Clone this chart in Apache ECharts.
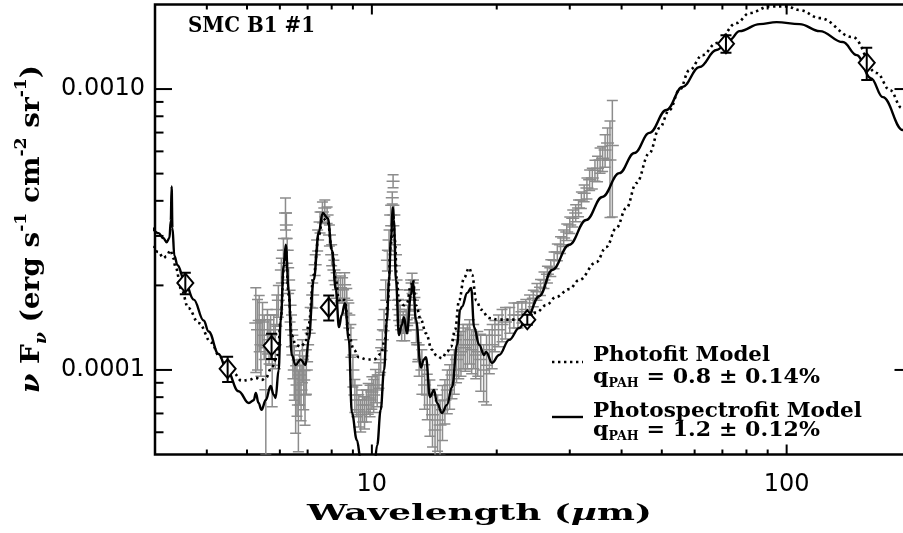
<!DOCTYPE html>
<html><head><meta charset="utf-8">
<script src="https://cdn.jsdelivr.net/npm/echarts@6/dist/echarts.min.js"></script>
<style>html,body{margin:0;padding:0;background:#fff}#c{width:903px;height:533px}</style>
</head><body><div id="c"></div>
<script>
// ---- axis ranges and ticks ----
const X_MIN = 3, X_MAX = 200, Y_MIN = 5e-5, Y_MAX = 2e-3;
const X_MAJOR_TICKS = [10, 100];
const X_MINOR_TICKS = [4, 5, 6, 7, 8, 9, 20, 30, 40, 50, 60, 70, 80, 90];
const Y_MAJOR_TICKS = [1e-4, 1e-3];
const Y_MINOR_TICKS = [6e-5, 7e-5, 8e-5, 9e-5, 2e-4, 3e-4, 4e-4, 5e-4, 6e-4, 7e-4, 8e-4, 9e-4];
const X_TICK_LABELS = {1: '10', 2: '100'};
const Y_TICK_LABELS = {'-4': '0.0001', '-3': '0.0010'};

// ---- Photospectrofit model (solid) ----
const SPECFIT_WL = [2.95, 3.06, 3.14, 3.20, 3.25, 3.275, 3.29, 3.305, 3.34, 3.40, 3.53, 3.72, 3.93, 4.04, 4.27, 4.47, 4.77, 5.05, 5.19, 5.25, 5.33, 5.42, 5.55, 5.70, 5.80, 5.86, 5.96, 6.03, 6.13, 6.20, 6.30, 6.41, 6.55, 6.73, 6.92, 7.04, 7.24, 7.45, 7.61, 7.83, 8.01, 8.19, 8.33, 8.46, 8.61, 8.80, 8.95, 9.20, 9.40, 9.60, 9.85, 10.1, 10.3, 10.5, 10.7, 10.87, 11.0, 11.11, 11.24, 11.30, 11.43, 11.62, 11.81, 11.95, 12.15, 12.42, 12.56, 12.77, 13.13, 13.35, 13.50, 13.81, 14.12, 14.35, 14.76, 15.17, 15.61, 16.05, 16.32, 16.50, 16.97, 17.35, 17.64, 18.14, 18.65, 18.85, 19.49, 20.27, 21.43, 22.65, 23.55, 25.32, 27.22, 29.91, 32.87, 35.94, 39.50, 42.95, 46.68, 51.30, 56.08, 61.65, 67.75, 72.82, 76.99, 86.08, 94.58, 107.5, 120.2, 136.6, 147.6, 159.6, 170.6, 190.6, 205];
const SPECFIT_FLUX = [3.22e-4, 3.07e-4, 2.95e-4, 2.85e-4, 2.95e-4, 3.4e-4, 4.5e-4, 3.2e-4, 2.55e-4, 2.36e-4, 2.09e-4, 1.78e-4, 1.50e-4, 1.37e-4, 1.14e-4, 1.0e-4, 8.4e-5, 7.63e-5, 7.8e-5, 8.28e-5, 7.63e-5, 7.21e-5, 7.82e-5, 8.77e-5, 8.15e-5, 7.95e-5, 1.0e-4, 1.51e-4, 2.37e-4, 2.79e-4, 1.93e-4, 1.13e-4, 1.04e-4, 1.09e-4, 1.04e-4, 1.28e-4, 2.09e-4, 3.1e-4, 3.62e-4, 3.47e-4, 2.67e-4, 1.93e-4, 1.42e-4, 1.57e-4, 1.73e-4, 1.28e-4, 7.03e-5, 5.63e-5, 4.8e-5, 3.8e-5, 3.6e-5, 4.3e-5, 5.4e-5, 7.2e-5, 1.0e-4, 1.5e-4, 2.1e-4, 2.9e-4, 3.8e-4, 3.42e-4, 2.09e-4, 1.33e-4, 1.45e-4, 1.54e-4, 1.35e-4, 1.85e-4, 2.04e-4, 1.51e-4, 1.02e-4, 1.09e-4, 1.11e-4, 8.01e-5, 8.49e-5, 7.63e-5, 7.03e-5, 7.51e-5, 8.70e-5, 1.23e-4, 1.64e-4, 1.68e-4, 1.88e-4, 1.96e-4, 1.42e-4, 1.23e-4, 1.13e-4, 1.16e-4, 1.06e-4, 1.13e-4, 1.28e-4, 1.41e-4, 1.51e-4, 1.83e-4, 2.27e-4, 2.79e-4, 3.42e-4, 4.13e-4, 5.02e-4, 5.92e-4, 6.98e-4, 8.42e-4, 1.017e-3, 1.198e-3, 1.377e-3, 1.494e-3, 1.608e-3, 1.703e-3, 1.731e-3, 1.703e-3, 1.608e-3, 1.47e-3, 1.321e-3, 1.094e-3, 9.36e-4, 7.15e-4, 5.97e-4];

// ---- Photofit model (dotted) ----
const PHOTOFIT_WL = [2.95, 3.057, 3.144, 3.197, 3.27, 3.32, 3.36, 3.476, 3.61, 3.82, 4.107, 4.27, 4.465, 4.642, 4.853, 5.045, 5.246, 5.42, 5.55, 5.73, 5.93, 6.03, 6.13, 6.20, 6.30, 6.41, 6.55, 6.73, 6.92, 7.04, 7.24, 7.45, 7.61, 7.83, 8.01, 8.19, 8.33, 8.46, 8.61, 8.80, 9.05, 9.30, 9.73, 10.11, 10.51, 10.75, 10.93, 11.11, 11.24, 11.36, 11.49, 11.62, 11.95, 12.15, 12.42, 12.56, 12.77, 13.13, 13.50, 13.96, 14.35, 14.76, 15.17, 15.52, 15.87, 16.23, 16.69, 17.16, 17.45, 17.84, 18.34, 19.17, 20.27, 22.65, 23.55, 24.90, 26.32, 27.82, 29.91, 31.62, 34.76, 36.75, 38.85, 41.07, 43.42, 46.68, 49.34, 52.17, 55.15, 58.31, 62.68, 67.75, 75.71, 81.42, 90.99, 100, 107.5, 120.2, 144.3, 164.9, 177.4, 189.6, 205];
const PHOTOFIT_FLUX = [2.76e-4, 2.63e-4, 2.50e-4, 2.54e-4, 2.67e-4, 2.50e-4, 2.33e-4, 1.93e-4, 1.66e-4, 1.47e-4, 1.25e-4, 1.13e-4, 1.04e-4, 9.76e-5, 9.14e-5, 9.21e-5, 9.37e-5, 9.21e-5, 9.37e-5, 1.02e-4, 1.13e-4, 1.51e-4, 2.27e-4, 2.67e-4, 1.85e-4, 1.33e-4, 1.23e-4, 1.21e-4, 1.25e-4, 1.45e-4, 2.18e-4, 3.02e-4, 3.47e-4, 3.36e-4, 2.67e-4, 2.09e-4, 1.77e-4, 1.80e-4, 1.77e-4, 1.33e-4, 1.18e-4, 1.11e-4, 1.09e-4, 1.09e-4, 1.14e-4, 1.28e-4, 1.77e-4, 2.79e-4, 3.56e-4, 2.90e-4, 2.09e-4, 1.77e-4, 1.70e-4, 1.73e-4, 2.01e-4, 2.09e-4, 1.70e-4, 1.51e-4, 1.35e-4, 1.18e-4, 1.12e-4, 1.10e-4, 1.16e-4, 1.21e-4, 1.39e-4, 1.77e-4, 2.13e-4, 2.31e-4, 2.18e-4, 1.77e-4, 1.64e-4, 1.53e-4, 1.51e-4, 1.51e-4, 1.51e-4, 1.60e-4, 1.70e-4, 1.82e-4, 1.94e-4, 2.09e-4, 2.42e-4, 2.74e-4, 3.20e-4, 3.77e-4, 4.63e-4, 5.92e-4, 7.26e-4, 8.42e-4, 9.92e-4, 1.168e-3, 1.321e-3, 1.458e-3, 1.718e-3, 1.864e-3, 1.97e-3, 1.97e-3, 1.91e-3, 1.789e-3, 1.531e-3, 1.14e-3, 9.92e-4, 8.56e-4, 7.4e-4];

// ---- IRS spectrum (gray points with error bars) ----
const SPEC_WL = [5.25, 5.30, 5.35, 5.40, 5.45, 5.50, 5.55, 5.60, 5.65, 5.70, 5.75, 5.80, 5.85, 5.90, 5.95,
  6.05, 6.12, 6.19, 6.22, 6.25, 6.30, 6.35, 6.40, 6.45, 6.50, 6.55, 6.60, 6.65, 6.70, 6.75, 6.80, 6.85, 6.90, 6.95,
  7.00, 7.10, 7.20, 7.30, 7.40, 7.50, 7.60, 7.70, 7.80, 7.90,
  8.00, 8.10, 8.20, 8.30, 8.40, 8.50, 8.60, 8.70, 8.80, 8.90,
  9.00, 9.10, 9.20, 9.30, 9.40, 9.50, 9.60, 9.70, 9.80, 9.90,
  10.0, 10.1, 10.2, 10.3, 10.4, 10.5, 10.6, 10.7, 10.8, 10.9,
  11.0, 11.1, 11.2, 11.25, 11.3, 11.4, 11.5, 11.6, 11.7, 11.8, 11.9,
  12.0, 12.1, 12.2, 12.3, 12.4, 12.5, 12.6, 12.7, 12.8, 12.9,
  13.0, 13.2, 13.4, 13.6, 13.8, 14.0, 14.2, 14.4, 14.6, 14.8,
  15.0, 15.2, 15.4, 15.6, 15.8, 16.0, 16.2, 16.4, 16.6, 16.8,
  17.0, 17.2, 17.4, 17.6, 17.8, 18.0, 18.3, 18.6, 18.9, 19.2, 19.5, 19.8,
  20.2, 20.6, 21.0, 21.5, 22.0, 22.5, 23.0, 23.5,
  24.0, 24.5, 25.0, 25.5, 26.0, 26.5, 27.0, 27.5, 28.0, 28.5, 29.0, 29.5, 30.0, 30.5, 31.0, 31.5,
  32.0, 32.5, 33.0, 33.5, 34.0, 34.5, 35.0, 35.5, 36.0, 36.5, 37.0, 37.5, 38.0];
const SPEC_FLUX = [1.47e-4, 1.39e-4, 1.50e-4, 1.23e-4, 1.48e-4, 1.33e-4, 8.5e-5, 1.39e-4, 1.28e-4, 1.33e-4, 1.04e-4, 1.39e-4, 1.23e-4, 1.64e-4, 1.77e-4,
  2.27e-4, 2.67e-4, 3.62e-4, 3.28e-4, 2.67e-4, 2.09e-4, 1.70e-4, 1.39e-4, 1.13e-4, 1.00e-4, 8.15e-5, 8.84e-5, 7.51e-5, 9.60e-5, 8.49e-5, 1.09e-4, 9.21e-5, 8.15e-5, 1.00e-4,
  1.23e-4, 1.51e-4, 1.85e-4, 2.37e-4, 2.90e-4, 3.36e-4, 3.65e-4, 3.77e-4, 3.56e-4, 3.02e-4,
  2.57e-4, 2.27e-4, 2.01e-4, 1.93e-4, 1.96e-4, 1.93e-4, 2.01e-4, 1.77e-4, 1.57e-4, 1.28e-4,
  1.00e-4, 8.15e-5, 7.82e-5, 7.21e-5, 6.92e-5, 7.51e-5, 7.09e-5, 7.51e-5, 7.95e-5, 7.82e-5,
  8.35e-5, 8.15e-5, 8.84e-5, 8.49e-5, 9.60e-5, 1.09e-4, 1.28e-4, 1.51e-4, 1.93e-4, 2.46e-4,
  2.90e-4, 3.56e-4, 4.10e-4, 4.70e-4, 3.56e-4, 2.57e-4, 1.93e-4, 1.64e-4, 1.57e-4, 1.39e-4, 1.48e-4,
  1.39e-4, 1.51e-4, 1.57e-4, 1.77e-4, 1.93e-4, 2.04e-4, 1.93e-4, 1.64e-4, 1.39e-4, 1.23e-4,
  1.09e-4, 1.00e-4, 8.84e-5, 8.15e-5, 7.51e-5, 6.92e-5, 6.11e-5, 6.64e-5, 6.37e-5, 7.21e-5,
  7.82e-5, 8.49e-5, 8.84e-5, 9.60e-5, 1.00e-4, 1.09e-4, 1.13e-4, 1.16e-4, 1.23e-4, 1.20e-4,
  1.23e-4, 1.28e-4, 1.18e-4, 1.23e-4, 1.13e-4, 1.16e-4, 1.09e-4, 1.00e-4, 1.04e-4, 1.18e-4, 1.23e-4, 1.33e-4,
  1.39e-4, 1.45e-4, 1.48e-4, 1.51e-4, 1.57e-4, 1.57e-4, 1.61e-4, 1.64e-4,
  1.73e-4, 1.80e-4, 1.90e-4, 1.97e-4, 2.09e-4, 2.19e-4, 2.31e-4, 2.46e-4, 2.63e-4, 2.79e-4, 2.95e-4, 3.10e-4, 3.28e-4, 3.47e-4, 3.62e-4, 3.77e-4,
  4.03e-4, 4.26e-4, 4.44e-4, 4.75e-4, 4.82e-4, 5.14e-4, 5.22e-4, 5.59e-4, 5.67e-4, 6.07e-4, 6.43e-4, 5.59e-4, 6.30e-4];
const SPEC_ERR = [4.9e-5, 3.9e-5, 3.4e-5, 2.8e-5, 2.6e-5, 2.4e-5, 3.5e-5, 2.5e-5, 2.3e-5, 2.4e-5, 3.0e-5, 1.8e-5, 2.2e-5, 2.1e-5, 2.3e-5,
  2.3e-5, 2.7e-5, 4.7e-5, 3.4e-5, 2.7e-5, 2.2e-5, 2.2e-5, 1.8e-5, 2.0e-5, 2.2e-5, 2.2e-5, 2.0e-5, 2.4e-5, 2.1e-5, 1.9e-5, 1.9e-5, 2.0e-5, 1.8e-5, 1.8e-5,
  1.6e-5, 1.6e-5, 1.9e-5, 2.0e-5, 2.5e-5, 2.9e-5, 3.1e-5, 2.6e-5, 2.4e-5, 2.6e-5,
  2.2e-5, 1.9e-5, 2.1e-5, 2.0e-5, 2.0e-5, 2.0e-5, 2.1e-5, 1.8e-5, 1.6e-5, 1.7e-5,
  1.3e-5, 1.1e-5, 1.0e-5, 9.5e-6, 9.1e-6, 9.8e-6, 9.3e-6, 9.8e-6, 1.0e-5, 1.0e-5,
  1.1e-5, 1.1e-5, 1.2e-5, 1.1e-5, 1.0e-5, 1.1e-5, 1.1e-5, 1.3e-5, 1.6e-5, 2.1e-5,
  2.5e-5, 3.0e-5, 2.0e-5, 2.5e-5, 3.0e-5, 2.2e-5, 1.6e-5, 1.4e-5, 1.3e-5, 1.2e-5, 1.3e-5,
  1.2e-5, 1.3e-5, 1.3e-5, 1.5e-5, 1.6e-5, 1.7e-5, 1.6e-5, 1.7e-5, 1.4e-5, 1.6e-5,
  1.4e-5, 1.8e-5, 1.6e-5, 1.5e-5, 1.7e-5, 1.6e-5, 1.4e-5, 1.5e-5, 1.4e-5, 1.6e-5,
  1.4e-5, 1.5e-5, 1.6e-5, 1.7e-5, 1.8e-5, 1.9e-5, 2.0e-5, 2.1e-5, 2.2e-5, 2.1e-5,
  2.2e-5, 2.3e-5, 2.1e-5, 2.2e-5, 2.0e-5, 2.1e-5, 2.5e-5, 2.3e-5, 2.9e-5, 2.1e-5, 2.2e-5, 1.7e-5,
  1.8e-5, 1.9e-5, 1.9e-5, 1.6e-5, 1.6e-5, 1.6e-5, 1.4e-5, 1.4e-5,
  1.2e-5, 1.2e-5, 1.3e-5, 1.3e-5, 1.4e-5, 1.5e-5, 1.6e-5, 1.7e-5, 1.8e-5, 1.9e-5, 2.0e-5, 2.1e-5, 2.2e-5, 2.4e-5, 2.5e-5, 2.6e-5,
  2.7e-5, 2.9e-5, 3.8e-5, 4.0e-5, 4.1e-5, 4.4e-5, 5.4e-5, 5.8e-5, 5.8e-5, 8.0e-5, 8.4e-5, 2.1e-4, 2.8e-4];

// ---- broadband photometry (diamonds) ----
const PHOT_WL = [3.55, 4.49, 5.73, 7.87, 23.7, 71.4, 156];
const PHOT_FLUX = [2.04e-4, 1.01e-4, 1.22e-4, 1.67e-4, 1.51e-4, 1.45e-3, 1.24e-3];
const PHOT_ERR = [1.8e-5, 1.05e-5, 1.26e-5, 1.7e-5, 6.3e-6, 1.04e-4, 1.62e-4];

// ---- text ----
const PANEL_LABEL = 'SMC B1 #1';
const X_TITLE = ['Wavelength (', 'µ', 'm)'];
const LEGEND_1 = 'Photofit Model', LEGEND_1Q = ' = 0.8 ± 0.14%';
const LEGEND_2 = 'Photospectrofit Model', LEGEND_2Q = ' = 1.2 ± 0.12%';

// ---------------------------------------------------------------
const SERIF = '"DejaVu Serif", "Liberation Serif", serif';
const SANS = '"DejaVu Sans", "Liberation Sans", sans-serif';
const _ctx = document.createElement('canvas').getContext('2d');
function measure(parts) {
  let w = 0;
  for (const [t, f] of parts) { _ctx.font = f; w += _ctx.measureText(t).width; }
  return w;
}
const zip = (a, b) => a.map((v, i) => [v, b[i]]);

function errRender(color, lw, capHalf, midHalf) {
  return function (params, api) {
    const x = api.value(0), y = api.value(1), e = api.value(2);
    const lo = Math.max(y - e, y * 0.05);
    const t = api.coord([x, y + e]), b = api.coord([x, lo]), m = api.coord([x, y]);
    const st = { stroke: color, lineWidth: lw, fill: null };
    const ch = [
      { type: 'line', shape: { x1: t[0], y1: t[1], x2: b[0], y2: b[1] }, style: st },
      { type: 'line', shape: { x1: t[0] - capHalf, y1: t[1], x2: t[0] + capHalf, y2: t[1] }, style: st },
      { type: 'line', shape: { x1: b[0] - capHalf, y1: b[1], x2: b[0] + capHalf, y2: b[1] }, style: st }
    ];
    if (midHalf) ch.push({ type: 'line', shape: { x1: m[0] - midHalf, y1: m[1], x2: m[0] + midHalf, y2: m[1] }, style: st });
    const cs = params.coordSys;
    return { type: 'group', children: ch,
      clipPath: { type: 'rect', shape: { x: cs.x, y: cs.y, width: cs.width, height: cs.height } } };
  };
}

function xTickRender(params, api) {
  const cs = params.coordSys;
  const p = api.coord([api.value(0), api.value(1)]);
  const len = api.value(2) ? 10 : 5;
  const st = { stroke: '#000', lineWidth: 2 };
  return { type: 'group', children: [
    { type: 'line', shape: { x1: p[0], y1: cs.y + cs.height, x2: p[0], y2: cs.y + cs.height - len }, style: st },
    { type: 'line', shape: { x1: p[0], y1: cs.y, x2: p[0], y2: cs.y + len }, style: st }
  ] };
}
function yTickRender(params, api) {
  const cs = params.coordSys;
  const p = api.coord([api.value(0), api.value(1)]);
  const len = api.value(2) ? 17 : 8.5;
  const st = { stroke: '#000', lineWidth: 2 };
  return { type: 'group', children: [
    { type: 'line', shape: { x1: cs.x, y1: p[1], x2: cs.x + len, y2: p[1] }, style: st },
    { type: 'line', shape: { x1: cs.x + cs.width, y1: p[1], x2: cs.x + cs.width - len, y2: p[1] }, style: st }
  ] };
}

function logLabel(map) {
  return function (v) {
    const e = Math.log10(v), r = Math.round(e);
    if (Math.abs(e - r) < 1e-6 && map[String(r)] !== undefined) return map[String(r)];
    return '';
  };
}

// text layout helpers
const F_TITLE = 'bold 23px ' + SERIF;
const F_TITLE_I = 'italic bold 23px ' + SERIF;
const xTitleW = measure([[X_TITLE[0], F_TITLE], [X_TITLE[1], F_TITLE_I], [X_TITLE[2], F_TITLE]]);

const F_YT = 'bold 26px ' + SERIF, F_YT_I = 'italic bold 26px ' + SERIF, F_YT_S = 'bold 16px ' + SERIF, F_YT_SI = 'italic bold 16px ' + SERIF;
const yTitleW = measure([['ν', F_YT_I], [' F', F_YT], ['ν', F_YT_SI], [' (erg s', F_YT], ['-1', F_YT_S], [' cm', F_YT], ['-2', F_YT_S], [' sr', F_YT], ['-1', F_YT_S], [')', F_YT]]);

const F_LEG = 'bold 21px ' + SERIF, F_LEG_S = 'bold 12px ' + SERIF;
const legQ1W = measure([['q', F_LEG], ['PAH', F_LEG_S], [LEGEND_1Q, F_LEG]]);
const legQ2W = measure([['q', F_LEG], ['PAH', F_LEG_S], [LEGEND_2Q, F_LEG]]);
const F_PANEL = 'bold 22px ' + SERIF;

function txt(x, y, text, font, targetW, extra) {
  const w = measure([[text, font]]);
  return Object.assign({ type: 'text', x: x, y: y, scaleX: targetW / w, silent: true,
    style: { text: text, font: font, fill: '#000', align: 'left', verticalAlign: 'middle', textAlign: 'left', textVerticalAlign: 'middle' } }, extra || {});
}
function qText(x, y, rest, targetW, measuredW) {
  return { type: 'text', x: x, y: y, scaleX: targetW / measuredW, silent: true,
    style: { text: '{a|q}{s|PAH}{a|' + rest + '}', fill: '#000', align: 'left', verticalAlign: 'middle', textAlign: 'left', textVerticalAlign: 'middle',
      rich: {
        a: { fontFamily: SERIF, fontWeight: 'bold', fontSize: 21, lineHeight: 24, fill: '#000', verticalAlign: 'middle' },
        s: { fontFamily: SERIF, fontWeight: 'bold', fontSize: 12, lineHeight: 12, fill: '#000', verticalAlign: 'bottom' }
      } } };
}

const chart = echarts.init(document.getElementById('c'), null, { renderer: 'canvas', width: 903, height: 533 });
chart.setOption({
  animation: false,
  backgroundColor: '#fff',
  grid: { left: 155, top: 4.5, width: 756.5, height: 450, show: true, borderColor: '#000', borderWidth: 2.5,
    backgroundColor: 'transparent', containLabel: false, outerBoundsMode: 'none' },
  xAxis: {
    type: 'log', logBase: 10, min: X_MIN, max: X_MAX,
    axisLine: { show: false }, axisTick: { show: false }, splitLine: { show: false }, minorTick: { show: false },
    axisLabel: { formatter: logLabel({ '1': X_TICK_LABELS[1], '2': X_TICK_LABELS[2] }), fontFamily: SANS, fontSize: 24, color: '#000', margin: 18 }
  },
  yAxis: {
    type: 'log', logBase: 10, min: Y_MIN, max: Y_MAX,
    axisLine: { show: false }, axisTick: { show: false }, splitLine: { show: false }, minorTick: { show: false },
    axisLabel: { formatter: logLabel(Y_TICK_LABELS), fontFamily: SANS, fontSize: 24, color: '#000', margin: 10 }
  },
  series: [
    { type: 'custom', name: 'IRS spectrum', z: 1, silent: true,
      data: SPEC_WL.map((w, i) => [w, SPEC_FLUX[i], SPEC_ERR[i]]),
      renderItem: errRender('#8c8c8c', 1.5, 5.5, 6.5) },
    { type: 'line', name: 'Photofit Model', z: 2, data: zip(PHOTOFIT_WL, PHOTOFIT_FLUX), showSymbol: false, symbol: 'none',
      smooth: 0.4, smoothMonotone: 'x', silent: true, clip: true,
      lineStyle: { color: '#000', width: 2.6, type: [2.4, 3.6], cap: 'butt' } },
    { type: 'line', name: 'Photospectrofit Model', z: 3, data: zip(SPECFIT_WL, SPECFIT_FLUX), showSymbol: false, symbol: 'none',
      smooth: 0.4, smoothMonotone: 'x', silent: true, clip: true,
      lineStyle: { color: '#000', width: 2.4 } },
    { type: 'scatter', name: 'Photometry', z: 4, data: zip(PHOT_WL, PHOT_FLUX), symbol: 'diamond', symbolSize: [16, 19], silent: true,
      itemStyle: { color: '#fff', borderColor: '#000', borderWidth: 2, opacity: 1 } },
    { type: 'custom', name: 'Photometry errors', z: 5, silent: true,
      data: PHOT_WL.map((w, i) => [w, PHOT_FLUX[i], PHOT_ERR[i]]),
      renderItem: errRender('#000', 2, 5.5, 0) },
    { type: 'custom', name: 'xticks', z: 6, silent: true, clip: false,
      data: X_MAJOR_TICKS.map(v => [v, Y_MIN, 1]).concat(X_MINOR_TICKS.map(v => [v, Y_MIN, 0])),
      renderItem: xTickRender },
    { type: 'custom', name: 'yticks', z: 6, silent: true, clip: false,
      data: Y_MAJOR_TICKS.map(v => [X_MIN, v, 1]).concat(Y_MINOR_TICKS.map(v => [X_MIN, v, 0])),
      renderItem: yTickRender }
  ],
  graphic: [
    // panel label
    txt(188, 26, PANEL_LABEL, F_PANEL, 127),
    // x title
    { type: 'text', x: 479.5, y: 514, scaleX: 345 / xTitleW, silent: true,
      style: { text: '{r|' + X_TITLE[0] + '}{i|' + X_TITLE[1] + '}{r|' + X_TITLE[2] + '}', fill: '#000',
        align: 'center', verticalAlign: 'middle', textAlign: 'center', textVerticalAlign: 'middle',
        rich: { r: { fontFamily: SERIF, fontWeight: 'bold', fontSize: 23, fill: '#000' },
                i: { fontFamily: SERIF, fontWeight: 'bold', fontStyle: 'italic', fontSize: 23, fill: '#000' } } } },
    // y title (rotated)
    { type: 'text', x: 32, y: 229, rotation: Math.PI / 2, scaleX: 328 / yTitleW, silent: true,
      style: { text: '{i|ν}{r| F}{si|ν}{r| (erg s}{p|-1}{r| cm}{p|-2}{r| sr}{p|-1}{r|)}', fill: '#000',
        align: 'center', verticalAlign: 'middle', textAlign: 'center', textVerticalAlign: 'middle',
        rich: {
          r: { fontFamily: SERIF, fontWeight: 'bold', fontSize: 26, lineHeight: 36, fill: '#000', verticalAlign: 'middle' },
          i: { fontFamily: SERIF, fontWeight: 'bold', fontStyle: 'italic', fontSize: 26, lineHeight: 36, fill: '#000', verticalAlign: 'middle' },
          p: { fontFamily: SERIF, fontWeight: 'bold', fontSize: 16, lineHeight: 16, fill: '#000', verticalAlign: 'top' },
          si: { fontFamily: SERIF, fontWeight: 'bold', fontStyle: 'italic', fontSize: 16, lineHeight: 16, fill: '#000', verticalAlign: 'bottom' }
        } } },
    // legend
    { type: 'line', silent: true, shape: { x1: 552, y1: 362, x2: 583, y2: 362 },
      style: { stroke: '#000', lineWidth: 2.6, lineDash: [2.4, 3.6] } },
    txt(593, 356, LEGEND_1, F_LEG, 177),
    qText(593, 378, LEGEND_1Q, 227, legQ1W),
    { type: 'line', silent: true, shape: { x1: 552, y1: 417, x2: 583, y2: 417 },
      style: { stroke: '#000', lineWidth: 2.4 } },
    txt(593, 412, LEGEND_2, F_LEG, 269),
    qText(593, 431, LEGEND_2Q, 227, legQ2W)
  ]
});
</script>
</body></html>
